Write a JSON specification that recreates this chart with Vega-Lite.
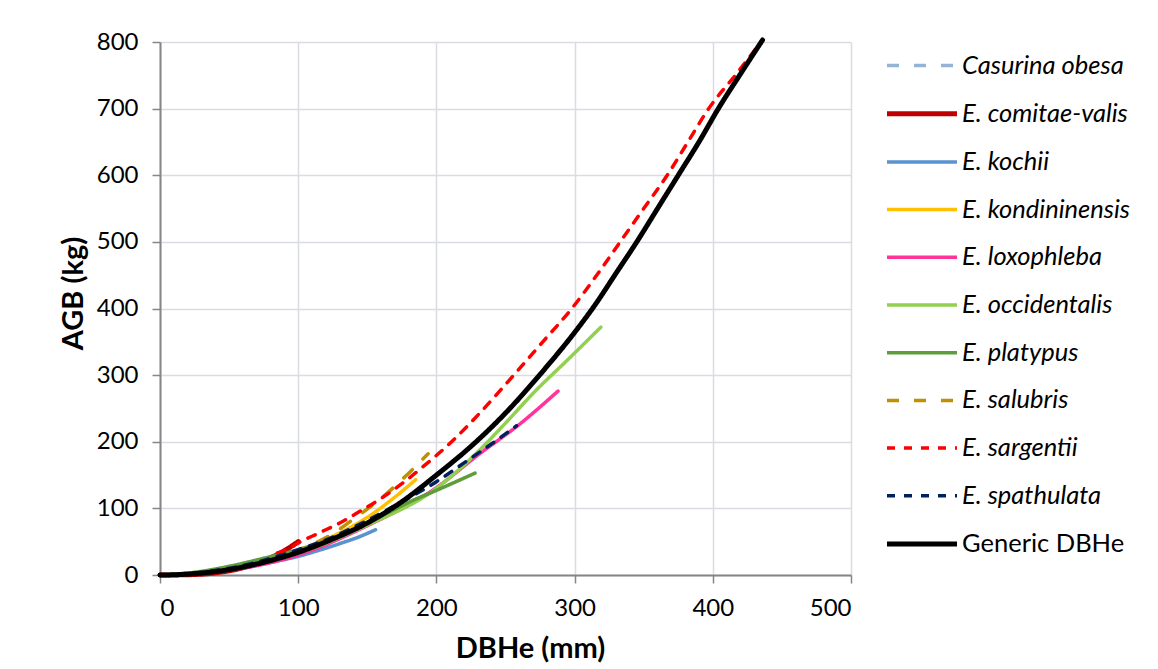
{
  "$schema": "https://vega.github.io/schema/vega-lite/v6.json",
  "autosize": {"type": "none"},
  "padding": {"left": 160, "top": 42, "right": 307, "bottom": 94},
  "width": 691,
  "height": 533,
  "background": "white",
  "config": {
    "font": "Lato",
    "view": {"stroke": null},
    "axis": {
      "gridColor": "#D9DCE3",
      "gridWidth": 1.5,
      "domainColor": "#868686",
      "domainWidth": 2,
      "tickColor": "#868686",
      "tickWidth": 1.5,
      "tickSize": 8,
      "labelFont": "Lato",
      "labelFontSize": 24,
      "labelColor": "#000000",
      "titleFont": "Lato",
      "titleFontSize": 29,
      "titleFontWeight": "bold",
      "titleColor": "#000000"
    }
  },
  "data": {
    "values": [
      {"series": "Casurina obesa", "d": 0, "agb": 0},
      {"series": "Casurina obesa", "d": 25, "agb": 2},
      {"series": "Casurina obesa", "d": 50, "agb": 8},
      {"series": "Casurina obesa", "d": 75, "agb": 18},

      {"series": "E. comitae-valis", "d": 0, "agb": 0},
      {"series": "E. comitae-valis", "d": 20, "agb": 0.4},
      {"series": "E. comitae-valis", "d": 40, "agb": 3.2},
      {"series": "E. comitae-valis", "d": 60, "agb": 10.8},
      {"series": "E. comitae-valis", "d": 70, "agb": 17},
      {"series": "E. comitae-valis", "d": 80, "agb": 25.6},
      {"series": "E. comitae-valis", "d": 90, "agb": 36.5},
      {"series": "E. comitae-valis", "d": 100, "agb": 50},

      {"series": "E. kochii", "d": 0, "agb": 0},
      {"series": "E. kochii", "d": 25, "agb": 2},
      {"series": "E. kochii", "d": 50, "agb": 8},
      {"series": "E. kochii", "d": 75, "agb": 17},
      {"series": "E. kochii", "d": 100, "agb": 28},
      {"series": "E. kochii", "d": 115, "agb": 37},
      {"series": "E. kochii", "d": 130, "agb": 47},
      {"series": "E. kochii", "d": 145, "agb": 58},
      {"series": "E. kochii", "d": 156, "agb": 68},

      {"series": "E. kondininensis", "d": 0, "agb": 0},
      {"series": "E. kondininensis", "d": 25, "agb": 2},
      {"series": "E. kondininensis", "d": 50, "agb": 8},
      {"series": "E. kondininensis", "d": 75, "agb": 19},
      {"series": "E. kondininensis", "d": 100, "agb": 36},
      {"series": "E. kondininensis", "d": 125, "agb": 58},
      {"series": "E. kondininensis", "d": 154, "agb": 92},
      {"series": "E. kondininensis", "d": 170, "agb": 117},
      {"series": "E. kondininensis", "d": 185, "agb": 143},

      {"series": "E. loxophleba", "d": 0, "agb": 0},
      {"series": "E. loxophleba", "d": 50, "agb": 7},
      {"series": "E. loxophleba", "d": 100, "agb": 30},
      {"series": "E. loxophleba", "d": 150, "agb": 74},
      {"series": "E. loxophleba", "d": 200, "agb": 131},
      {"series": "E. loxophleba", "d": 230, "agb": 180},
      {"series": "E. loxophleba", "d": 260, "agb": 226},
      {"series": "E. loxophleba", "d": 288, "agb": 276},

      {"series": "E. occidentalis", "d": 0, "agb": 0},
      {"series": "E. occidentalis", "d": 50, "agb": 10},
      {"series": "E. occidentalis", "d": 100, "agb": 33},
      {"series": "E. occidentalis", "d": 150, "agb": 75},
      {"series": "E. occidentalis", "d": 200, "agb": 130},
      {"series": "E. occidentalis", "d": 231, "agb": 187},
      {"series": "E. occidentalis", "d": 250, "agb": 228},
      {"series": "E. occidentalis", "d": 272, "agb": 277},
      {"series": "E. occidentalis", "d": 295, "agb": 323},
      {"series": "E. occidentalis", "d": 319, "agb": 372},

      {"series": "E. platypus", "d": 0, "agb": 0},
      {"series": "E. platypus", "d": 25, "agb": 4},
      {"series": "E. platypus", "d": 50, "agb": 13},
      {"series": "E. platypus", "d": 75, "agb": 25},
      {"series": "E. platypus", "d": 100, "agb": 38},
      {"series": "E. platypus", "d": 125, "agb": 55},
      {"series": "E. platypus", "d": 150, "agb": 78},
      {"series": "E. platypus", "d": 183, "agb": 112},
      {"series": "E. platypus", "d": 200, "agb": 127},
      {"series": "E. platypus", "d": 228, "agb": 153},

      {"series": "E. salubris", "d": 0, "agb": 0},
      {"series": "E. salubris", "d": 25, "agb": 2},
      {"series": "E. salubris", "d": 50, "agb": 9},
      {"series": "E. salubris", "d": 75, "agb": 20},
      {"series": "E. salubris", "d": 100, "agb": 37},
      {"series": "E. salubris", "d": 125, "agb": 62},
      {"series": "E. salubris", "d": 142, "agb": 87},
      {"series": "E. salubris", "d": 160, "agb": 115},
      {"series": "E. salubris", "d": 176, "agb": 145},
      {"series": "E. salubris", "d": 194, "agb": 182},

      {"series": "E. sargentii", "d": 85, "agb": 33},
      {"series": "E. sargentii", "d": 92, "agb": 38},
      {"series": "E. sargentii", "d": 100, "agb": 48},
      {"series": "E. sargentii", "d": 115, "agb": 63},
      {"series": "E. sargentii", "d": 130, "agb": 78},
      {"series": "E. sargentii", "d": 145, "agb": 96},
      {"series": "E. sargentii", "d": 160, "agb": 115},
      {"series": "E. sargentii", "d": 175, "agb": 137},
      {"series": "E. sargentii", "d": 190, "agb": 162},
      {"series": "E. sargentii", "d": 211, "agb": 200},
      {"series": "E. sargentii", "d": 230, "agb": 240},
      {"series": "E. sargentii", "d": 256, "agb": 300},
      {"series": "E. sargentii", "d": 277, "agb": 350},
      {"series": "E. sargentii", "d": 298, "agb": 400},
      {"series": "E. sargentii", "d": 316, "agb": 450},
      {"series": "E. sargentii", "d": 333, "agb": 500},
      {"series": "E. sargentii", "d": 350, "agb": 550},
      {"series": "E. sargentii", "d": 367, "agb": 600},
      {"series": "E. sargentii", "d": 382, "agb": 650},
      {"series": "E. sargentii", "d": 397, "agb": 700},
      {"series": "E. sargentii", "d": 417, "agb": 752},
      {"series": "E. sargentii", "d": 436, "agb": 803},

      {"series": "E. spathulata", "d": 0, "agb": 0},
      {"series": "E. spathulata", "d": 25, "agb": 3},
      {"series": "E. spathulata", "d": 50, "agb": 10},
      {"series": "E. spathulata", "d": 75, "agb": 22},
      {"series": "E. spathulata", "d": 100, "agb": 38},
      {"series": "E. spathulata", "d": 125, "agb": 57},
      {"series": "E. spathulata", "d": 150, "agb": 82},
      {"series": "E. spathulata", "d": 175, "agb": 110},
      {"series": "E. spathulata", "d": 200, "agb": 140},
      {"series": "E. spathulata", "d": 217, "agb": 164},
      {"series": "E. spathulata", "d": 240, "agb": 197},
      {"series": "E. spathulata", "d": 258, "agb": 224},

      {"series": "Generic DBHe", "d": 0, "agb": 0},
      {"series": "Generic DBHe", "d": 10, "agb": 0.3},
      {"series": "Generic DBHe", "d": 25, "agb": 2},
      {"series": "Generic DBHe", "d": 50, "agb": 8},
      {"series": "Generic DBHe", "d": 75, "agb": 19},
      {"series": "Generic DBHe", "d": 100, "agb": 34},
      {"series": "Generic DBHe", "d": 125, "agb": 54},
      {"series": "Generic DBHe", "d": 150, "agb": 78},
      {"series": "Generic DBHe", "d": 175, "agb": 110},
      {"series": "Generic DBHe", "d": 200, "agb": 150},
      {"series": "Generic DBHe", "d": 225, "agb": 193},
      {"series": "Generic DBHe", "d": 250, "agb": 243},
      {"series": "Generic DBHe", "d": 275, "agb": 301},
      {"series": "Generic DBHe", "d": 300, "agb": 364},
      {"series": "Generic DBHe", "d": 315, "agb": 406},
      {"series": "Generic DBHe", "d": 330, "agb": 453},
      {"series": "Generic DBHe", "d": 345, "agb": 500},
      {"series": "Generic DBHe", "d": 360, "agb": 550},
      {"series": "Generic DBHe", "d": 375, "agb": 600},
      {"series": "Generic DBHe", "d": 390, "agb": 650},
      {"series": "Generic DBHe", "d": 404, "agb": 700},
      {"series": "Generic DBHe", "d": 420, "agb": 752},
      {"series": "Generic DBHe", "d": 436, "agb": 803}
    ]
  },
  "mark": {"type": "line", "strokeCap": "round", "strokeJoin": "round", "interpolate": "monotone", "clip": false},
  "encoding": {
    "x": {
      "field": "d", "type": "quantitative",
      "scale": {"domain": [0, 500], "nice": false, "zero": true},
      "axis": {"values": [0, 100, 200, 300, 400, 500], "title": "DBHe (mm)", "labelPadding": 13, "titlePadding": 14, "titleX": 370}
    },
    "y": {
      "field": "agb", "type": "quantitative",
      "scale": {"domain": [0, 800], "nice": false},
      "axis": {"values": [0, 100, 200, 300, 400, 500, 600, 700, 800], "title": "AGB (kg)", "labelPadding": 14, "titlePadding": 8, "titleY": 251}
    },
    "color": {
      "field": "series", "type": "nominal",
      "scale": {
        "domain": ["Casurina obesa", "E. comitae-valis", "E. kochii", "E. kondininensis", "E. loxophleba", "E. occidentalis", "E. platypus", "E. salubris", "E. sargentii", "E. spathulata", "Generic DBHe"],
        "range": ["#95B3D7", "#C00000", "#5B93CF", "#FFC000", "#FF3399", "#92D050", "#5E9C3C", "#BF9000", "#FF0000", "#002060", "#000000"]
      },
      "legend": {
        "title": null,
        "orient": "none",
        "legendX": 742,
        "legendY": 4,
        "symbolType": "M-2,0H2",
        "symbolSize": 1225,
        "labelOffset": 20,
        "labelFont": "Lato",
        "labelFontSize": 25.5,
        "labelColor": "#000000",
        "labelFontStyle": {"expr": "datum.label == 'Generic DBHe' ? 'normal' : 'italic'"},
        "rowPadding": 14.7,
        "labelLimit": 400
      }
    },
    "strokeDash": {
      "field": "series", "type": "nominal",
      "scale": {
        "domain": ["Casurina obesa", "E. comitae-valis", "E. kochii", "E. kondininensis", "E. loxophleba", "E. occidentalis", "E. platypus", "E. salubris", "E. sargentii", "E. spathulata", "Generic DBHe"],
        "range": [[12, 15], [1, 0], [1, 0], [1, 0], [1, 0], [1, 0], [1, 0], [12, 15], [8, 9], [8, 9], [1, 0]]
      },
      "legend": null
    },
    "strokeWidth": {
      "field": "series", "type": "nominal",
      "scale": {
        "type": "ordinal",
        "domain": ["Casurina obesa", "E. comitae-valis", "E. kochii", "E. kondininensis", "E. loxophleba", "E. occidentalis", "E. platypus", "E. salubris", "E. sargentii", "E. spathulata", "Generic DBHe"],
        "range": [3.5, 5, 3.5, 3.5, 3.5, 3.5, 3.5, 3.5, 3.5, 3.5, 5]
      },
      "legend": null
    }
  }
}
